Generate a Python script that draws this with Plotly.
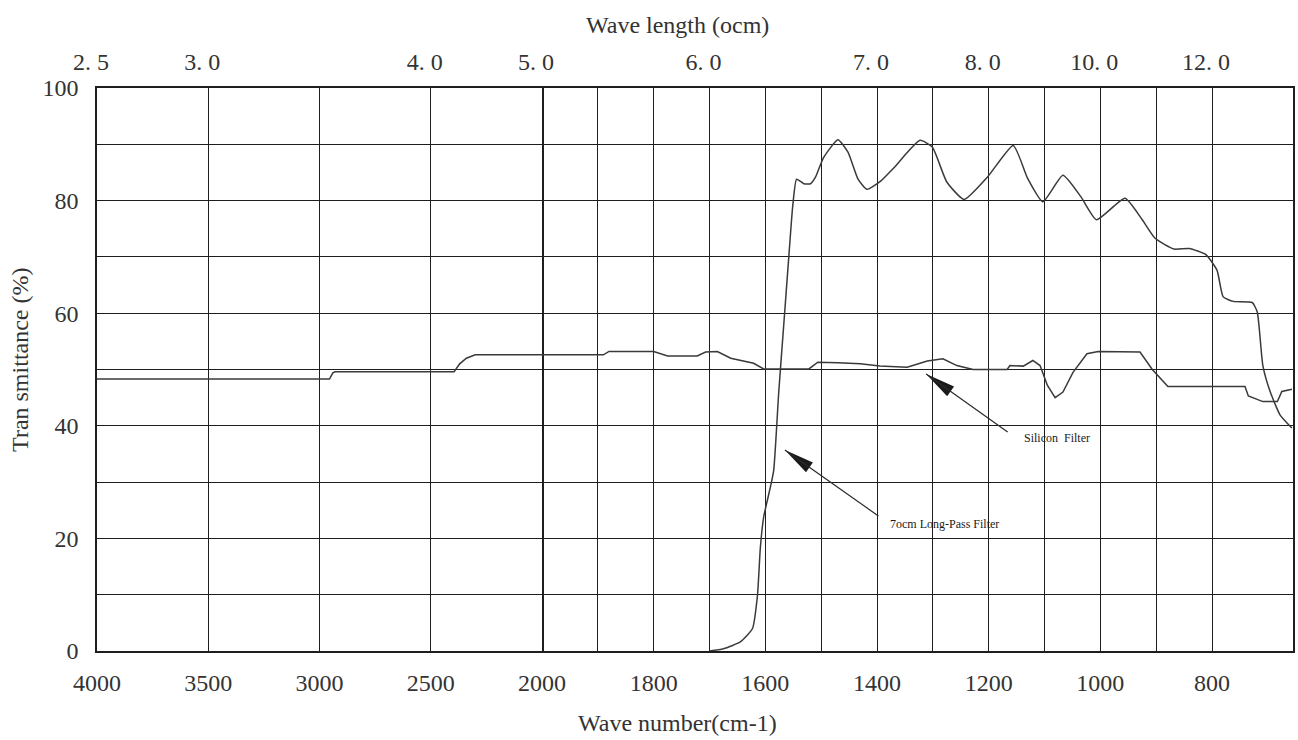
import plotly.graph_objects as go

# wave number (cm-1) / transmittance (%)
silicon_wn = [4000, 2955, 2940, 2930, 2395, 2370, 2340, 2300, 1890, 1880, 1800,
              1775, 1722, 1707, 1686, 1662, 1621, 1603, 1522, 1506, 1470, 1430,
              1395, 1346, 1310, 1282, 1257, 1228, 1167, 1162, 1138, 1121, 1108,
              1095, 1081, 1067, 1049, 1024, 1004, 965, 929, 907, 879, 741, 735,
              709, 683, 675, 657]
silicon_t = [48.3, 48.3, 49.4, 49.6, 49.6, 51.0, 52.0, 52.6, 52.6, 53.2, 53.2,
             52.4, 52.4, 53.1, 53.2, 52.0, 51.1, 50.1, 50.1, 51.3, 51.2, 51.0,
             50.6, 50.4, 51.5, 51.9, 50.7, 50.0, 50.0, 50.7, 50.6, 51.6, 50.7,
             47.2, 45.0, 46.0, 49.5, 52.8, 53.2, 53.2, 53.1, 50.0, 47.0, 47.0, 45.3,
             44.3, 44.3, 46.1, 46.5]

longpass_wn = [1700, 1675, 1645, 1623, 1614, 1609, 1603, 1591, 1585, 1576, 1567,
               1558, 1551, 1544, 1531, 1519, 1510, 1496, 1470, 1452, 1434, 1418,
               1393, 1370, 1323, 1301, 1275, 1244, 1202, 1156, 1130, 1103, 1067,
               1035, 1007, 956, 925, 902, 868, 841, 811, 791, 780, 762, 728, 719,
               709, 696, 678, 657]
longpass_t = [0, 0.4, 1.6, 4.0, 10.0, 18.3, 23.8, 29.1, 32.1, 46.0, 58.0,
              70.0, 79.0, 83.8, 83.0, 83.0, 84.2, 87.6, 90.8, 88.6, 83.8, 82.0,
              83.5, 85.8, 90.7, 89.5, 83.3, 80.2, 84.2, 89.8, 83.9, 79.8, 84.5,
              80.7, 76.6, 80.4, 76.6, 73.3, 71.4, 71.5, 70.4, 67.6, 62.9, 62.1, 61.9, 60.2,
              50.7, 46.1, 41.9, 39.6]

# bottom axis: 500 steps down to 2000, then 100 steps
left_ticks = [4000, 3500, 3000, 2500]
right_ticks = [2000, 1900, 1800, 1700, 1600, 1500, 1400, 1300, 1200, 1100, 1000, 900, 800]
right_text = ['2000', '', '1800', '', '1600', '', '1400', '', '1200', '', '1000', '', '800']

# top axis (wave length)
top_left_ticks = [4000, 3500, 2500, 2000]
top_left_text = ['2. 5', '3. 0', '4. 0', '5. 0']
top_right_ticks = [1700, 1400, 1200, 1000, 800]
top_right_text = ['6. 0', '7. 0', '8. 0', '10. 0', '12. 0']

y_ticks = [0, 10, 20, 30, 40, 50, 60, 70, 80, 90, 100]
y_text = ['0', '', '20', '', '40', '', '60', '', '80', '', '100']

FONT = 'Liberation Serif, Times New Roman, serif'
INK = '#333333'
GRID = '#1e1e1e'
SPLIT = 445 / 1196

line_style = dict(color='#3a3a3a', width=1.5)

fig = go.Figure()
for xa, ya in [('x', 'y'), ('x2', 'y2')]:
    fig.add_trace(go.Scatter(x=silicon_wn, y=silicon_t, mode='lines', line=line_style,
                             xaxis=xa, yaxis=ya, showlegend=False, hoverinfo='skip'))
fig.add_trace(go.Scatter(x=longpass_wn, y=longpass_t, mode='lines',
                         line=dict(shape='spline', smoothing=0.5, **line_style),
                         xaxis='x2', yaxis='y2', showlegend=False, hoverinfo='skip'))
# empty traces so the top axes get their own subplots
fig.add_trace(go.Scatter(x=[], y=[], xaxis='x3', yaxis='y', showlegend=False))
fig.add_trace(go.Scatter(x=[], y=[], xaxis='x4', yaxis='y2', showlegend=False))

tick_font = dict(family=FONT, size=24, color=INK)
axis_common = dict(showgrid=True, gridcolor=GRID, gridwidth=1.3, zeroline=False,
                   showline=True, linecolor=GRID, linewidth=1.5, automargin=False,
                   ticks='outside', tickcolor='rgba(0,0,0,0)', tickfont=tick_font)
top_common = dict(showgrid=False, zeroline=False, showline=False, automargin=False,
                  ticks='outside', ticklen=7, tickcolor='rgba(0,0,0,0)',
                  ticklabelshift=6, tickfont=tick_font)

fig.update_layout(
    width=1298, height=740,
    margin=dict(l=97, r=5, t=88, b=89),
    paper_bgcolor='white', plot_bgcolor='white',
    xaxis=dict(domain=[0, SPLIT], range=[4000, 2000], anchor='y', mirror=True, ticklen=9,
               tickvals=left_ticks, ticktext=[str(v) for v in left_ticks], **axis_common),
    xaxis2=dict(domain=[SPLIT, 1], range=[2000, 655], anchor='y2', mirror=True, ticklen=9,
                tickvals=right_ticks, ticktext=right_text, **axis_common),
    xaxis3=dict(overlaying='x', side='top', range=[4000, 2000], anchor='y',
                tickvals=top_left_ticks, ticktext=top_left_text, **top_common),
    xaxis4=dict(overlaying='x2', side='top', range=[2000, 655], anchor='y2',
                tickvals=top_right_ticks, ticktext=top_right_text, **top_common),
    # left frame plus the 2000 cm-1 break line
    yaxis=dict(domain=[0, 1], range=[0, 100], anchor='x', ticklen=12, mirror=True,
               tickvals=y_ticks, ticktext=y_text, **axis_common),
    yaxis2=dict(domain=[0, 1], range=[0, 100], anchor='x2', matches='y', side='right',
                ticklen=0, tickvals=y_ticks, showticklabels=False, **axis_common),
)


def head_path(ax, ay, length=30, half=6):
    # arrowhead triangle in pixels relative to the tip; shapes count y upward
    d = (ax ** 2 + ay ** 2) ** 0.5
    ux, uy = ax / d, ay / d
    bx, by = ux * length, uy * length
    px, py = -uy * half, ux * half
    return f"M0,0 L{bx + px:.1f},{-(by + py):.1f} L{bx - px:.1f},{-(by - py):.1f} Z"


callouts = [
    # tip wn, tip %, tail dx, tail dy, label wn, label %, text
    (1312, 49.2, 83, 59, 1140, 37.8, 'Silicon  Filter'),
    (1565, 35.7, 95, 67, 1380, 22.6, '7ocm Long-Pass Filter'),
]
for tx, ty, ax, ay, lx, ly, txt in callouts:
    fig.add_annotation(x=tx, y=ty, xref='x2', yref='y2', ax=ax, ay=ay, text='',
                       showarrow=True, arrowhead=0, arrowwidth=1.2, arrowcolor='#2a2a2a')
    fig.add_shape(type='path', xref='x2', yref='y2', xsizemode='pixel', ysizemode='pixel',
                  xanchor=tx, yanchor=ty, path=head_path(ax, ay),
                  fillcolor='#1a1a1a', line=dict(width=0))
    fig.add_annotation(x=lx, y=ly, xref='x2', yref='y2', text=txt, showarrow=False,
                       xanchor='left', yanchor='middle',
                       font=dict(family=FONT, size=12, color='#1a1a1a'))

fig.add_annotation(x=0.485, y=1, xref='paper', yref='paper', yshift=63, text='Wave length (ocm)',
                   showarrow=False, yanchor='middle', font=dict(family=FONT, size=24, color=INK))
fig.add_annotation(x=0.485, y=0, xref='paper', yref='paper', yshift=-72, text='Wave number(cm-1)',
                   showarrow=False, yanchor='middle', font=dict(family=FONT, size=24, color=INK))
fig.add_annotation(x=0, y=0.517, xref='paper', yref='paper', xshift=-77, text='Tran smittance (%)',
                   textangle=-90, showarrow=False, xanchor='center', yanchor='middle',
                   font=dict(family=FONT, size=24, color=INK))

fig.write_html("out.html", config={'displayModeBar': False},
               post_script="document.body.style.margin='0';document.body.style.overflow='hidden';")
